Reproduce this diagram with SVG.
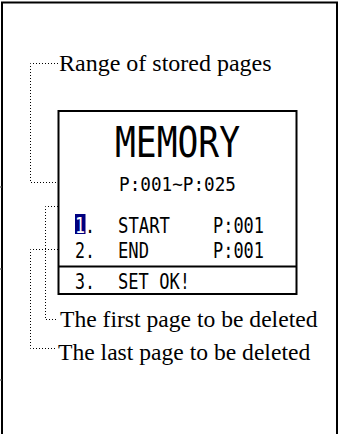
<svg xmlns="http://www.w3.org/2000/svg" width="339" height="434" viewBox="0 0 339 434">
<style>
.frame{fill:none;stroke:#000;stroke-width:2}
.lcd{fill:#fff;stroke:#000;stroke-width:2}
.dot{fill:none;stroke:#000;stroke-width:1;stroke-dasharray:1 2}
.lbl{font-family:"Liberation Serif","Times New Roman",serif;font-size:24px;fill:#000}
.lbl2{font-size:23.6px}
.mono{font-family:"DejaVu Sans Mono","Liberation Mono",monospace;fill:#000}
.row{font-size:22px}
.tick{stroke:#777;stroke-width:1.5}
</style>
<rect width="339" height="434" fill="#fff"/>
<path class="frame" d="M2,434 V2.5 H337 V434"/>
<g id="ticks">
<line class="tick" x1="0" y1="187" x2="1.5" y2="187"/>
<line class="tick" x1="0" y1="269" x2="1.5" y2="269"/>
<line class="tick" x1="0" y1="380" x2="1.5" y2="380"/>
</g>
<g id="connectors">
<path class="dot" d="M58,63.5 H30.5 V182.5 H117"/>
<path class="dot" d="M70,206.5 H45.5 V319.5 H58"/>
<path class="dot" d="M67,249.5 H30.5 V348.5 H55"/>
</g>
<g id="lcd">
<rect class="lcd" x="58.5" y="111" width="238" height="183"/>
<line x1="58.5" y1="266.5" x2="296.5" y2="266.5" stroke="#000" stroke-width="2"/>
<text class="mono" x="115" y="157" font-size="43" textLength="125" lengthAdjust="spacingAndGlyphs">MEMORY</text>
<text class="mono" x="119" y="191" font-size="20" textLength="117" lengthAdjust="spacingAndGlyphs">P:001~P:025</text>
<rect x="75" y="214" width="10.5" height="20" fill="#000080"/>
<text class="mono row" transform="translate(75,233) scale(0.76,1)"><tspan fill="#fff">1</tspan>.</text>
<text class="mono row" x="118" y="233" textLength="52" lengthAdjust="spacingAndGlyphs">START</text>
<text class="mono row" x="213" y="233" textLength="51" lengthAdjust="spacingAndGlyphs">P:001</text>
<text class="mono row" x="75" y="258" textLength="20" lengthAdjust="spacingAndGlyphs">2.</text>
<text class="mono row" x="118" y="258" textLength="31" lengthAdjust="spacingAndGlyphs">END</text>
<text class="mono row" x="213" y="258" textLength="51" lengthAdjust="spacingAndGlyphs">P:001</text>
<text class="mono row" x="75" y="289" textLength="20" lengthAdjust="spacingAndGlyphs">3.</text>
<text class="mono row" x="118" y="289" textLength="72" lengthAdjust="spacingAndGlyphs">SET OK!</text>
</g>
<g id="label-range"><text class="lbl" x="59" y="71">Range of stored pages</text></g>
<g id="label-first"><text class="lbl lbl2" x="60" y="327">The first page to be deleted</text></g>
<g id="label-last"><text class="lbl lbl2" x="58" y="360">The last page to be deleted</text></g>
</svg>
